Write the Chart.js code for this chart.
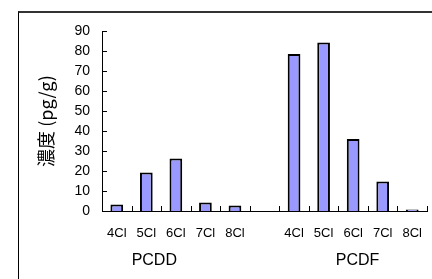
<!DOCTYPE html>
<html>
<head>
<meta charset="utf-8">
<script src="https://cdn.jsdelivr.net/npm/chart.js@4.4.1/dist/chart.umd.min.js"></script>
<style>
html, body { margin: 0; padding: 0; background: #fff; overflow: hidden; }
#wrap { position: relative; width: 432px; height: 279px; overflow: hidden; }
#frame { position: absolute; left: 18px; top: 11px; right: -4px; bottom: -4px; border-left: 1px solid #000; border-top: 2px solid #333; }
canvas { position: absolute; left: 0; top: 0; }
</style>
</head>
<body>
<div id="wrap">
  <div id="frame"></div>
  <canvas id="chart" width="437" height="279"></canvas>
</div>
<script>
// categories (empty slot separates the two groups)
var categories = ['4Cl', '5Cl', '6Cl', '7Cl', '8Cl', '', '4Cl', '5Cl', '6Cl', '7Cl', '8Cl'];
var concentrations = [3.3, 19.2, 26.3, 4.3, 2.8, null, 78.5, 84.3, 36, 14.8, 0.8];
var groupNames = ['PCDD', 'PCDF'];
var groupCenters = [1.27, 8.15]; // in category index units
var yMin = 0, yMax = 90, yStep = 10;

var FONT = 'Arial, "Liberation Sans", sans-serif';

// small tick marks pointing into the plot, plus group names under the axis
var innerTicks = {
    id: 'innerTicks',
    afterDraw: function(chart) {
        var c = chart.ctx, x = chart.scales.x, y = chart.scales.y;
        c.save();
        c.strokeStyle = '#000';
        c.lineWidth = 1;
        c.beginPath();
        y.ticks.forEach(function(t, i) {
            var py = Math.round(y.getPixelForTick(i)) + 0.5;
            c.moveTo(x.left, py);
            c.lineTo(x.left + 5, py);
        });
        for (var i = 1; i <= categories.length; i++) {
            var px = Math.round(x.getPixelForValue(i - 0.5)) + 0.5;
            c.moveTo(px, y.bottom);
            c.lineTo(px, y.bottom - 5);
        }
        c.stroke();

        c.fillStyle = '#000';
        c.font = '16px ' + FONT;
        c.textAlign = 'center';
        c.textBaseline = 'middle';
        groupNames.forEach(function(n, i) {
            c.fillText(n, x.getPixelForValue(groupCenters[i]), y.bottom + 50);
        });
        c.restore();
    }
};

var ctx = document.getElementById('chart').getContext('2d');
var chart = new Chart(ctx, {
    type: 'bar',
    data: {
        labels: categories,
        datasets: [{
            data: concentrations,
            backgroundColor: '#9999FF',
            borderColor: '#000',
            borderWidth: 2,
            barPercentage: 0.43,
            categoryPercentage: 1
        }]
    },
    options: {
        responsive: false,
        animation: false,
        devicePixelRatio: 1,
        layout: { padding: { top: 31, left: 0, right: 0, bottom: 0 } },
        plugins: { legend: { display: false }, tooltip: { enabled: false } },
        scales: {
            x: {
                offset: true,
                grid: { display: false, drawTicks: false },
                border: { display: true, color: '#000', width: 1 },
                ticks: {
                    color: '#000',
                    font: { family: FONT, size: 13 },
                    padding: 15,
                    maxRotation: 0,
                    autoSkip: false
                },
                afterFit: function(s) { s.height = 68; }
            },
            y: {
                min: yMin,
                max: yMax,
                grid: { display: false, drawTicks: false },
                border: { display: true, color: '#000', width: 1 },
                ticks: {
                    stepSize: yStep,
                    color: '#000',
                    font: { family: FONT, size: 14 },
                    padding: 12
                },
                title: {
                    display: true,
                    text: '濃度 (pg/g)',
                    color: '#000',
                    font: { family: '"Noto Sans CJK JP", ' + FONT, size: 18 },
                    padding: { top: 35, bottom: 0 }
                },
                afterFit: function(s) { s.width = 102; }
            }
        }
    },
    plugins: [innerTicks]
});
</script>
</body>
</html>
